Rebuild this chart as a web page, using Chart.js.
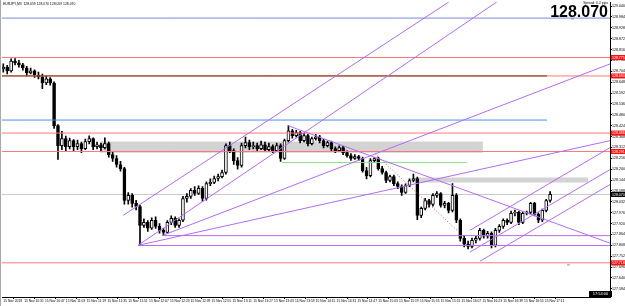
<!DOCTYPE html>
<html><head><meta charset="utf-8">
<script src="https://cdn.jsdelivr.net/npm/chart.js@4.4.1/dist/chart.umd.min.js"></script>
<style>html,body{margin:0;padding:0;background:#fff;overflow:hidden}canvas{display:block}</style>
</head><body>
<div style="position:relative;width:625px;height:306px"><canvas id="c" width="625" height="306"></canvas></div>
<script>
// ---------- DATA ----------
const symbolTitle = "EURJPY,M3  128.059 128.070 128.059 128.070";
const spreadText = "Spread: 0.2 pips";
const bidText = "128.070";
const timerText = "17:54:00";
const timeLabels = ["15 Nov 2018","15 Nov 10:31","15 Nov 10:47","15 Nov 11:03","15 Nov 11:19","15 Nov 11:35","15 Nov 11:51","15 Nov 12:07","15 Nov 12:23","15 Nov 12:39","15 Nov 12:55","15 Nov 13:11","15 Nov 13:27","15 Nov 13:43","15 Nov 13:59","15 Nov 14:15","15 Nov 14:31","15 Nov 14:47","15 Nov 15:03","15 Nov 15:19","15 Nov 15:35","15 Nov 15:51","15 Nov 16:07","15 Nov 16:23","15 Nov 16:39","15 Nov 16:55","15 Nov 17:11"];
const labelStepMinutes = 16;
const barStepMinutes = 3;

const opens = [
128.716,128.726,128.706,128.757,128.747,128.737,128.721,128.696,128.706,128.685,
128.675,128.644,128.665,128.644,128.424,128.321,128.357,128.316,128.347,128.316,
128.332,128.306,128.342,128.357,128.316,128.326,128.311,128.332,128.275,128.255,
128.224,128.203,128.039,128.065,128.024,128.008,127.911,127.926,127.896,127.937,
127.906,127.885,127.875,127.926,127.947,127.911,127.937,128.049,128.060,128.091,
128.075,128.101,128.049,128.126,128.132,128.152,128.162,128.183,128.321,128.296,
128.244,128.219,128.321,128.337,128.316,128.321,128.306,128.326,128.301,128.316,
128.296,128.321,128.255,128.347,128.398,128.373,128.388,128.347,128.373,128.332,
128.357,128.367,128.347,128.321,128.337,128.306,128.296,128.311,128.285,128.270,
128.255,128.265,128.255,128.193,128.167,128.244,128.255,128.203,128.183,128.142,
128.162,128.126,128.111,128.080,128.116,128.142,128.152,127.962,127.998,128.039,
128.019,128.065,128.075,128.014,128.024,127.988,128.065,127.937,127.844,127.814,
127.803,127.834,127.844,127.885,127.855,127.870,127.808,127.885,127.906,127.937,
127.926,127.973,127.978,127.926,127.973,127.978,128.024,127.967,127.937,127.988,
128.039];
const highs = [
128.742,128.735,128.768,128.770,128.760,128.745,128.730,128.720,128.712,128.700,
128.690,128.680,128.672,128.650,128.430,128.395,128.370,128.360,128.352,128.350,
128.340,128.355,128.372,128.362,128.340,128.335,128.362,128.340,128.290,128.270,
128.240,128.210,128.080,128.075,128.040,128.015,127.945,127.935,127.950,127.955,
127.920,127.895,127.935,127.960,127.955,127.945,128.060,128.075,128.100,128.110,
128.115,128.110,128.135,128.150,128.165,128.175,128.195,128.330,128.340,128.305,
128.260,128.335,128.365,128.350,128.340,128.335,128.345,128.340,128.335,128.325,
128.335,128.330,128.355,128.424,128.405,128.400,128.395,128.385,128.380,128.365,
128.380,128.375,128.355,128.345,128.345,128.315,128.320,128.318,128.295,128.280,
128.275,128.272,128.262,128.210,128.255,128.260,128.262,128.215,128.190,128.170,
128.170,128.135,128.120,128.125,128.150,128.175,128.160,128.005,128.050,128.045,
128.075,128.085,128.080,128.035,128.030,128.126,128.075,127.945,127.860,127.830,
127.845,127.855,127.895,127.892,127.880,127.878,127.895,127.915,127.945,127.945,
127.985,127.990,127.985,127.980,127.985,128.030,128.030,127.975,127.995,128.045,
128.085];
const lows = [
128.700,128.690,128.700,128.737,128.725,128.710,128.680,128.690,128.672,128.665,
128.615,128.635,128.632,128.410,128.250,128.300,128.290,128.305,128.295,128.300,
128.285,128.300,128.330,128.300,128.305,128.295,128.305,128.262,128.240,128.210,
128.190,128.020,128.020,128.005,127.990,127.808,127.900,127.880,127.890,127.895,
127.870,127.858,127.870,127.915,127.900,127.900,127.930,128.030,128.050,128.065,
128.070,128.035,128.040,128.115,128.125,128.140,128.155,128.175,128.285,128.225,
128.200,128.210,128.310,128.300,128.305,128.295,128.300,128.290,128.295,128.285,
128.290,128.240,128.250,128.340,128.360,128.365,128.335,128.340,128.320,128.325,
128.350,128.335,128.310,128.315,128.295,128.285,128.290,128.275,128.262,128.245,
128.250,128.245,128.185,128.150,128.160,128.235,128.195,128.175,128.130,128.135,
128.115,128.100,128.065,128.075,128.110,128.135,127.940,127.950,127.990,128.005,
128.010,128.055,128.005,128.000,127.975,127.980,127.925,127.830,127.800,127.790,
127.795,127.820,127.835,127.845,127.845,127.795,127.800,127.875,127.895,127.915,
127.920,127.960,127.915,127.920,127.965,127.970,127.960,127.925,127.930,127.980,
128.030];
const closes = [
128.726,128.706,128.757,128.747,128.737,128.721,128.696,128.706,128.685,128.675,
128.644,128.665,128.644,128.424,128.321,128.357,128.316,128.347,128.316,128.332,
128.306,128.342,128.357,128.316,128.326,128.311,128.332,128.275,128.255,128.224,
128.203,128.039,128.065,128.024,128.008,127.911,127.926,127.896,127.937,127.906,
127.885,127.875,127.926,127.947,127.911,127.937,128.049,128.060,128.091,128.075,
128.101,128.049,128.126,128.132,128.152,128.162,128.183,128.321,128.296,128.244,
128.219,128.321,128.337,128.316,128.321,128.306,128.326,128.301,128.316,128.296,
128.321,128.255,128.347,128.398,128.373,128.388,128.347,128.373,128.332,128.357,
128.367,128.347,128.321,128.337,128.306,128.296,128.311,128.285,128.270,128.255,
128.265,128.255,128.193,128.167,128.244,128.255,128.203,128.183,128.142,128.162,
128.126,128.111,128.080,128.116,128.142,128.152,127.962,127.998,128.039,128.019,
128.065,128.075,128.014,128.024,127.988,128.065,127.937,127.844,127.814,127.803,
127.834,127.844,127.885,127.855,127.870,127.808,127.885,127.906,127.937,127.926,
127.973,127.978,127.926,127.973,127.978,128.024,127.967,127.937,127.988,128.039,
128.070];

const priceTicks = [129.040,128.984,128.928,128.872,128.816,128.760,128.704,128.648,128.592,128.536,128.480,128.424,128.368,128.312,128.256,128.200,128.144,128.088,128.032,127.976,127.920,127.864,127.808,127.752,127.696,127.640,127.584];
const priceMin = 127.542, priceMax = 129.060;
const timeMin = -1, timeMax = 466;

const currentPrice = 128.070;
const tagPrices = [128.775, 128.680, 128.386, 128.291, 127.718];
const redLevels = [128.775, 128.680, 128.386, 128.291, 127.718];
const blueTopLevel = 128.978;
const brownLevel = [128.680, 417.6];       // price, end time
const blueMidLevel = [128.453, 417.6];     // price, end time
const purpleLevels = [[122.7, 127.858], [103.5, 127.807]]; // start time, price
const greenSegment = [214.1, 356.1, 128.234];
const zones = [[74.3, 368.4, 128.342, 128.285], [316.2, 449.1, 128.157, 128.132]];
const trendLines = [
  [92.0, 127.962, 343.1, 129.065],
  [103.5, 127.808, 379.9, 129.065],
  [122.7, 127.860, 466, 128.742],
  [103.5, 127.808, 466, 128.347],
  [218.7, 128.424, 466, 127.819],
  [358.4, 127.885, 466, 128.311],
  [358.4, 127.773, 466, 128.198],
  [366.1, 127.726, 466, 128.121]
];
const dottedRed = [285.5, 128.280, 348.5, 127.885];

// ---------- BUILD ----------
const FONT = '"Liberation Sans", Arial, sans-serif';
const times = opens.map((_, i) => i * barStepMinutes);
const PURPLE = '#b36cf0', RED = '#f67a7a';

function seg(x1, y1, x2, y2, color, order, dash, width) {
  return { type: 'line', data: [{x: x1, y: y1}, {x: x2, y: y2}], borderColor: color,
    borderWidth: width || 1, borderDash: dash || [], pointRadius: 0, fill: false,
    tension: 0, order: order, borderCapStyle: 'butt' };
}
const datasets = [];
zones.forEach(z => datasets.push({ type: 'line', data: [{x: z[0], y: z[2]}, {x: z[1], y: z[2]}],
  borderColor: 'rgba(0,0,0,0)', borderWidth: 0, pointRadius: 0, backgroundColor: '#d3d3d3',
  fill: {value: z[3]}, order: 20 }));
datasets.push({ type: 'bar', data: times.map((t, i) => ({x: t, y: [lows[i], highs[i]]})),
  backgroundColor: '#000', barThickness: 1, grouped: false, order: 6 });
datasets.push({ type: 'bar', data: times.map((t, i) => ({x: t, y: [opens[i], closes[i]]})),
  backgroundColor: closes.map((c, i) => c >= opens[i] ? '#ffffff' : '#000000'),
  borderColor: '#000', borderWidth: 1, borderSkipped: false, barThickness: 3, grouped: false, order: 5 });
datasets.push(seg(timeMin, currentPrice, timeMax, currentPrice, '#c8c8c8', 8));
datasets.push(seg(timeMin, blueTopLevel, timeMax, blueTopLevel, '#7d87d8', 3));
redLevels.forEach(p => datasets.push(seg(timeMin, p, timeMax, p, RED, 3)));
datasets.push(seg(timeMin, brownLevel[0], brownLevel[1], brownLevel[0], '#6e3611', 2));
datasets.push(seg(timeMin, blueMidLevel[0], blueMidLevel[1], blueMidLevel[0], '#4a92e6', 2));
datasets.push(seg(greenSegment[0], greenSegment[2], greenSegment[1], greenSegment[2], '#86e086', 2));
purpleLevels.forEach(p => datasets.push(seg(p[0], p[1], timeMax, p[1], PURPLE, 1)));
trendLines.forEach(l => datasets.push(seg(l[0], l[1], l[2], l[3], PURPLE, 1)));
datasets.push(seg(dottedRed[0], dottedRed[1], dottedRed[2], dottedRed[3], '#e05050', 1, [1, 2]));

const overlay = {
  id: 'overlay',
  afterDraw(chart) {
    const {ctx} = chart; const y = chart.scales.y;
    ctx.save();
    ctx.fillStyle = '#a8a8a8'; ctx.fillRect(0, 0, 1, 306);
    ctx.fillStyle = '#000'; ctx.textAlign = 'left'; ctx.textBaseline = 'top';
    ctx.font = '3.4px ' + FONT; ctx.fillText(symbolTitle, 3, 2.5);
    ctx.textAlign = 'right'; ctx.font = '3.4px ' + FONT; ctx.fillText(spreadText, 608, 1);
    ctx.font = 'bold 16px ' + FONT; ctx.textBaseline = 'alphabetic'; ctx.fillText(bidText, 608, 16.5);
    ctx.fillStyle = '#777'; ctx.font = '3.5px ' + FONT; ctx.textAlign = 'left'; ctx.textBaseline = 'middle';
    ctx.fillText('m', 571, 19); ctx.fillText('m', 567, 265);
    tagPrices.forEach(p => {
      const py = y.getPixelForValue(p);
      ctx.fillStyle = '#ff1010'; ctx.fillRect(611, py - 2.5, 14, 5);
      ctx.fillStyle = '#fff'; ctx.font = '3.5px ' + FONT; ctx.textAlign = 'left'; ctx.textBaseline = 'middle';
      ctx.fillText(p.toFixed(3), 612, py + 0.2);
    });
    const cy = y.getPixelForValue(currentPrice);
    ctx.fillStyle = '#000'; ctx.fillRect(611, cy - 2.5, 14, 5);
    ctx.fillStyle = '#fff'; ctx.fillText(currentPrice.toFixed(3), 612, cy + 0.2);
    ctx.fillStyle = '#000'; ctx.fillRect(589, 291, 23, 6);
    ctx.fillStyle = '#fff'; ctx.font = '4px ' + FONT; ctx.textAlign = 'center';
    ctx.fillText(timerText, 600.5, 294.2);
    ctx.restore();
  }
};

new Chart(document.getElementById('c'), {
  type: 'bar',
  data: { datasets },
  plugins: [overlay],
  options: {
    responsive: false, animation: false, events: [],
    layout: { padding: { left: 2, top: 1, right: 0, bottom: 0 }, autoPadding: false },
    plugins: { legend: { display: false }, tooltip: { enabled: false } },
    scales: {
      x: {
        type: 'linear', min: timeMin, max: timeMax, offset: false,
        grid: { drawOnChartArea: false, tickLength: 2, color: '#000' },
        border: { color: '#000' },
        ticks: { font: { size: 3.3, family: FONT }, color: '#000', padding: 0, align: 'start',
          maxRotation: 0, autoSkip: false, callback: (v, i) => timeLabels[i] },
        afterBuildTicks: s => { s.ticks = timeLabels.map((_, k) => ({ value: k * labelStepMinutes })); },
        afterFit: s => { s.height = 9; }
      },
      y: {
        position: 'right', min: priceMin, max: priceMax,
        grid: { drawOnChartArea: false, tickLength: 2, color: '#000' },
        border: { color: '#000' },
        ticks: { font: { size: 3.6, family: FONT }, color: '#000', padding: 0,
          callback: v => Number(v).toFixed(3) },
        afterBuildTicks: s => { s.ticks = priceTicks.map(v => ({ value: v })); },
        afterFit: s => { s.width = 15; }
      }
    }
  }
});
</script>
</body></html>
